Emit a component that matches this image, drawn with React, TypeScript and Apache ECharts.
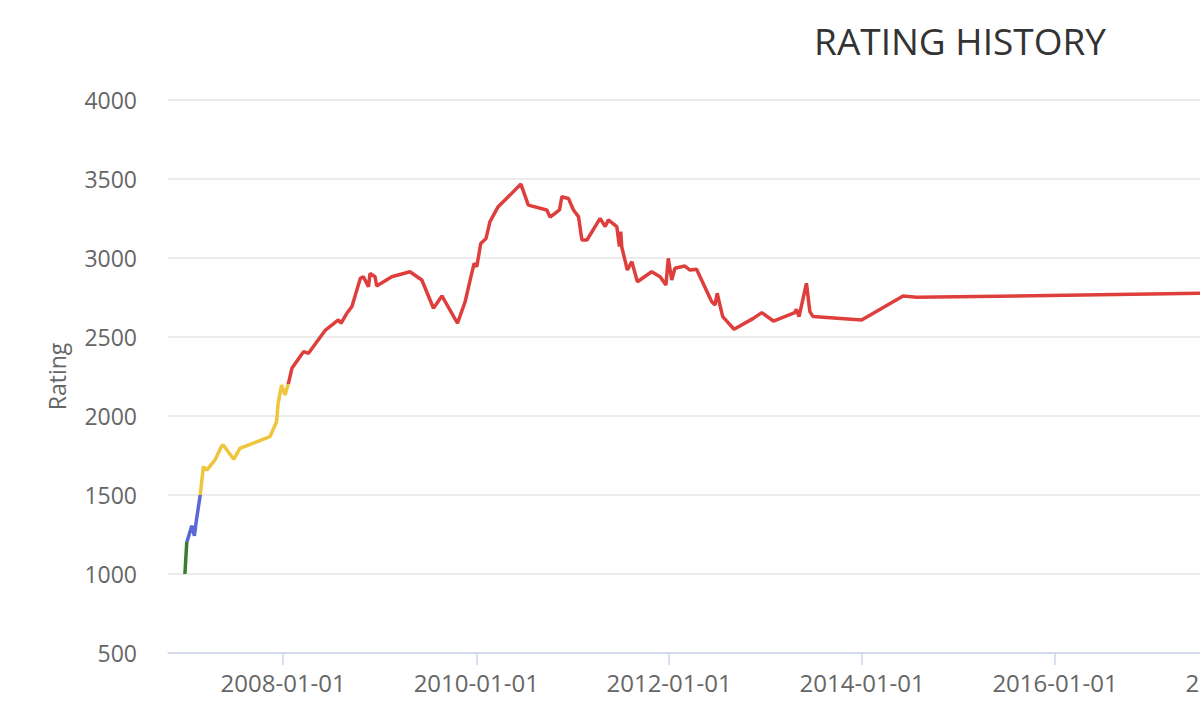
import React, { useEffect, useRef } from "react";
import * as echarts from "echarts";

const dates: string[] = [
  "2006-12-25", "2007-01-01", "2007-01-20", "2007-01-30", "2007-02-05", "2007-02-21",
  "2007-03-05", "2007-03-18", "2007-04-18", "2007-05-13", "2007-05-19", "2007-06-28",
  "2007-07-21", "2007-11-12", "2007-12-07", "2007-12-13", "2007-12-26", "2008-01-08",
  "2008-01-21", "2008-02-03", "2008-03-18", "2008-04-06", "2008-06-09", "2008-07-28",
  "2008-08-07", "2008-08-29", "2008-09-17", "2008-10-19", "2008-10-31", "2008-11-19",
  "2008-11-25", "2008-12-14", "2008-12-20", "2009-02-15", "2009-04-25", "2009-06-09",
  "2009-07-23", "2009-08-24", "2009-10-22", "2009-11-20", "2009-12-09", "2009-12-24",
  "2010-01-03", "2010-01-18", "2010-02-07", "2010-02-22", "2010-03-25", "2010-05-15",
  "2010-06-19", "2010-07-17", "2010-09-25", "2010-10-08", "2010-11-12", "2010-11-21",
  "2010-12-16", "2011-01-04", "2011-01-23", "2011-02-05", "2011-02-24", "2011-04-15",
  "2011-05-04", "2011-05-16", "2011-06-17", "2011-06-27", "2011-07-02", "2011-07-06",
  "2011-07-27", "2011-08-13", "2011-09-03", "2011-10-27", "2011-11-28", "2011-12-20",
  "2011-12-29", "2012-01-11", "2012-01-23", "2012-03-01", "2012-03-20", "2012-04-14",
  "2012-06-10", "2012-06-23", "2012-07-01", "2012-07-22", "2012-09-03", "2012-11-15",
  "2012-12-17", "2013-01-30", "2013-04-21", "2013-04-27", "2013-05-07", "2013-06-04",
  "2013-06-17", "2013-06-29", "2013-12-30", "2014-06-05", "2014-07-26", "2018-09-01",
];

const ratings: number[] = [
  1000, 1200, 1305, 1242, 1323, 1500,
  1679, 1658, 1722, 1810, 1816, 1726,
  1795, 1869, 1964, 2080, 2196, 2133,
  2207, 2302, 2407, 2397, 2544, 2608,
  2587, 2650, 2692, 2871, 2881, 2818,
  2902, 2881, 2823, 2881, 2913, 2861,
  2682, 2760, 2587, 2724, 2861, 2966,
  2945, 3092, 3124, 3230, 3325, 3409,
  3468, 3335, 3304, 3258, 3304, 3388,
  3377, 3304, 3262, 3114, 3114, 3251,
  3199, 3241, 3199, 3072, 3167, 3068,
  2924, 2977, 2850, 2913, 2882, 2829,
  2998, 2861, 2935, 2949, 2924, 2929,
  2724, 2703, 2777, 2629, 2549, 2618,
  2654, 2601, 2654, 2675, 2629, 2840,
  2661, 2629, 2608, 2760, 2751, 2787,
];

const xTickLabels: string[] = [
  "2008-01-01", "2010-01-01", "2012-01-01", "2014-01-01", "2016-01-01", "2018-01-01",
];

const yTicks: number[] = [500, 1000, 1500, 2000, 2500, 3000, 3500, 4000];

const FONT = "'Open Sans', 'DejaVu Sans', sans-serif";

export default function App() {
  const ref = useRef<HTMLDivElement>(null);

  useEffect(() => {
    if (!ref.current) return;
    const chart = echarts.init(ref.current, undefined, { renderer: "svg" });
    const tickTs = xTickLabels.map((d) => Date.parse(d));
    const seriesData = dates.map((d, i) => [Date.parse(d), ratings[i]]);
    chart.setOption({
      animation: false,
      backgroundColor: "#ffffff",
      textStyle: { fontFamily: FONT },
      title: {
        text: "RATING HISTORY",
        left: "center",
        top: 17,
        textStyle: { fontFamily: FONT, fontSize: 37, fontWeight: "normal", color: "#333333" },
      },
      grid: { left: 168, right: 575.5, top: 100, bottom: 71, containLabel: false },
      xAxis: {
        type: "value",
        min: Date.parse("2006-10-22"),
        max: Date.parse("2019-01-01"),
        axisLine: { show: true, lineStyle: { color: "#ccd6eb", width: 1.5 } },
        axisTick: { show: true, length: 12, lineStyle: { color: "#ccd6eb", width: 1.5 }, customValues: tickTs },
        axisLabel: {
          customValues: tickTs,
          margin: 17,
          color: "#666666",
          fontSize: 24,
          fontFamily: FONT,
          formatter: (v: number) => new Date(v).toISOString().slice(0, 10),
        },
        splitLine: { show: false },
      },
      yAxis: {
        type: "value",
        min: yTicks[0],
        max: yTicks[yTicks.length - 1],
        interval: 500,
        name: "Rating",
        nameLocation: "middle",
        nameGap: 100,
        nameTextStyle: { color: "#666666", fontSize: 23, fontFamily: FONT },
        axisLine: { show: false },
        axisTick: { show: false },
        axisLabel: {
          margin: 31,
          color: "#666666",
          fontSize: 23,
          fontFamily: FONT,
          formatter: (v: number) => String(v),
        },
        splitLine: { show: true, lineStyle: { color: "#e6e6e6", width: 1.5 } },
      },
      visualMap: {
        show: false,
        type: "piecewise",
        dimension: 1,
        seriesIndex: 0,
        pieces: [
          { lt: 1200, color: "#3b7d2e" },
          { gte: 1200, lt: 1500, color: "#5a68d6" },
          { gte: 1500, lt: 2200, color: "#eec53b" },
          { gte: 2200, color: "#de3f3c" },
        ],
      },
      series: [
        {
          type: "line",
          data: seriesData,
          showSymbol: false,
          symbol: "none",
          lineStyle: { width: 3.5 },
        },
      ],
    });
    return () => chart.dispose();
  }, []);

  return (
    <div style={{ position: "fixed", left: 0, top: 0, width: 1200, height: 724, overflow: "hidden", background: "#fff" }}>
      <div ref={ref} style={{ width: 1920, height: 724 }} />
    </div>
  );
}
